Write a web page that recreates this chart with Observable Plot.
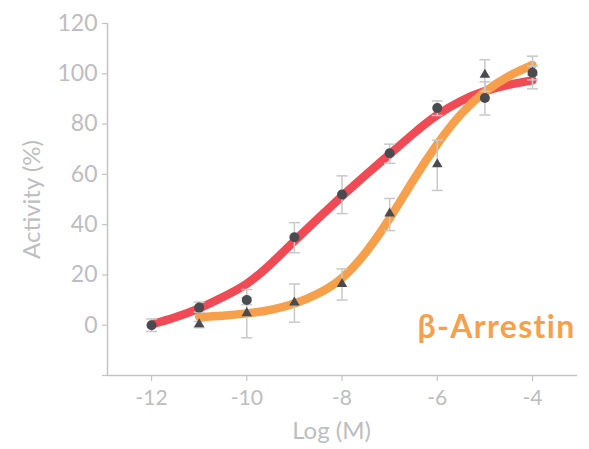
<!DOCTYPE html>
<html><head><meta charset="utf-8">
<script src="https://cdn.jsdelivr.net/npm/d3@7"></script>
<script src="https://cdn.jsdelivr.net/npm/@observablehq/plot@0.6"></script>
<style>html,body{margin:0;padding:0;background:#fff}svg{display:block}</style>
</head><body><div id="chart"></div>
<script>
// ---- data ----
const xTicks = [-12, -10, -8, -6, -4];
const yTicks = [-20, 0, 20, 40, 60, 80, 100, 120];

// circles (dark dots) measured points
const circleX  = [-12, -11, -10, -9, -8, -7, -6, -5, -4];
const circleY  = [0, 7, 10, 35, 52, 68.4, 86.4, 90.4, 100.4];
const circleLo = [-2.5, 5.2, 8.2, 28.8, 44.4, 64.4, 83.4, 83.6, 94];
const circleHi = [2.5, 9.2, 14.2, 40.8, 59.4, 72, 89.2, 96.8, 107];

// triangles measured points
const triX  = [-11, -10, -9, -8, -7, -6, -5, -4];
const triY  = [0.4, 4.8, 9, 16.4, 44.4, 64, 99.6, 100.5];
const triLo = [-1, -5, 1.2, 10, 37.6, 53.6, 93, 97.6];
const triHi = [1.5, 11, 16.4, 22.4, 50.4, 73.6, 105.6, 103];

// fitted curves
const redCurveX = [-12, -11.5, -11, -10.5, -10, -9.5, -9, -8.5, -8, -7.5, -7, -6.5, -6, -5.5, -5, -4.5, -4];
const redCurveY = [0.3, 3.2, 6.7, 11.2, 16.5, 24.3, 33.5, 42.5, 51.3, 59.8, 68, 76.2, 83.6, 89.2, 93.1, 95.6, 97.4];
const orangeCurveX = [-11, -10.5, -10, -9.5, -9, -8.5, -8, -7.5, -7, -6.5, -6, -5.5, -5, -4.5, -4];
const orangeCurveY = [3.3, 3.8, 4.7, 6.1, 8.6, 12.6, 18.8, 29, 42.5, 57.8, 72, 84, 92.8, 99, 103.5];

const seriesLabel = "β-Arrestin";
const xTitle = "Log (M)";
const yTitle = "Activity (%)";

// ---- build tables ----
const circles = circleX.map((x, i) => ({x, y: circleY[i], lo: circleLo[i], hi: circleHi[i]}));
const tris = triX.map((x, i) => ({x, y: triY[i], lo: triLo[i], hi: triHi[i]}));
const redCurve = redCurveX.map((x, i) => ({x, y: redCurveY[i]}));
const orangeCurve = orangeCurveX.map((x, i) => ({x, y: orangeCurveY[i]}));
const xDomain = [-12.925, -3.055];
const yDomain = [-20, 120];

const axisColor = "#c3c3c6";
const textColor = "#bdbdc2";
const barColor = "#c8c8c8";
const markColor = "#4a4b50";
const red = "#f04b55";
const orange = "#f6a04c";
const font = "Lato, 'Open Sans', sans-serif";

const capSymbol = {
  draw(ctx, size) {
    const w = Math.sqrt(size / Math.PI);
    ctx.moveTo(-w, 0);
    ctx.lineTo(w, 0);
  }
};

const errMarks = (data) => [
  Plot.ruleX(data, {x: "x", y1: "lo", y2: "hi", stroke: barColor, strokeWidth: 1.5}),
  Plot.dot(data, {x: "x", y: "lo", symbol: capSymbol, r: 5.5, stroke: barColor, strokeWidth: 1.5, fill: "none"}),
  Plot.dot(data, {x: "x", y: "hi", symbol: capSymbol, r: 5.5, stroke: barColor, strokeWidth: 1.5, fill: "none"})
];

const chart = Plot.plot({
  width: 589,
  height: 449,
  marginTop: 23,
  marginBottom: 74,
  marginLeft: 107,
  marginRight: 12,
  style: {fontFamily: font, background: "#fff"},
  x: {domain: xDomain},
  y: {domain: yDomain},
  marks: [
    Plot.axisY({ticks: yTicks, tickFormat: d => d === -20 ? "" : String(d), tickSize: 5, tickPadding: 5,
      fontSize: 23, fontWeight: 400, stroke: axisColor, fill: textColor, label: null, strokeWidth: 1.2}),
    Plot.axisX({ticks: xTicks, tickFormat: d => String(d), tickSize: 6, tickPadding: 9,
      fontSize: 21, fontWeight: 400, stroke: axisColor, fill: textColor, label: null, strokeWidth: 1.2}),
    Plot.ruleY([yDomain[0]], {stroke: axisColor, strokeWidth: 1.5}),
    Plot.ruleX([xDomain[0]], {y1: yDomain[0], y2: yDomain[1], stroke: axisColor, strokeWidth: 1.5}),
    Plot.line(redCurve, {x: "x", y: "y", stroke: red, strokeWidth: 8.5, curve: "natural"}),
    Plot.line(orangeCurve, {x: "x", y: "y", stroke: orange, strokeWidth: 8.5, curve: "natural"}),
    ...errMarks(circles),
    ...errMarks(tris),
    Plot.dot(tris, {x: "x", y: "y", symbol: "triangle", r: 3.9, fill: markColor}),
    Plot.dot(circles, {x: "x", y: "y", r: 5, fill: markColor}),
    Plot.text([yTitle], {frameAnchor: "left", textAnchor: "middle", lineAnchor: "middle", rotate: -90, dx: -75,
      fontSize: 24, fontWeight: 400, fill: textColor}),
    Plot.text([xTitle], {frameAnchor: "bottom", textAnchor: "middle", lineAnchor: "middle", dx: -11, dy: 56,
      fontSize: 24, fontWeight: 400, fill: textColor}),
    Plot.text([seriesLabel], {frameAnchor: "bottom-right", textAnchor: "end", lineAnchor: "middle", dx: -2, dy: -48,
      fontSize: 32, fontWeight: 700, fill: orange, className: "series-label"})
  ]
});
d3.select(chart).selectAll(".series-label text").attr("letter-spacing", "1.3px");
document.getElementById("chart").appendChild(chart);
</script>
</body></html>
